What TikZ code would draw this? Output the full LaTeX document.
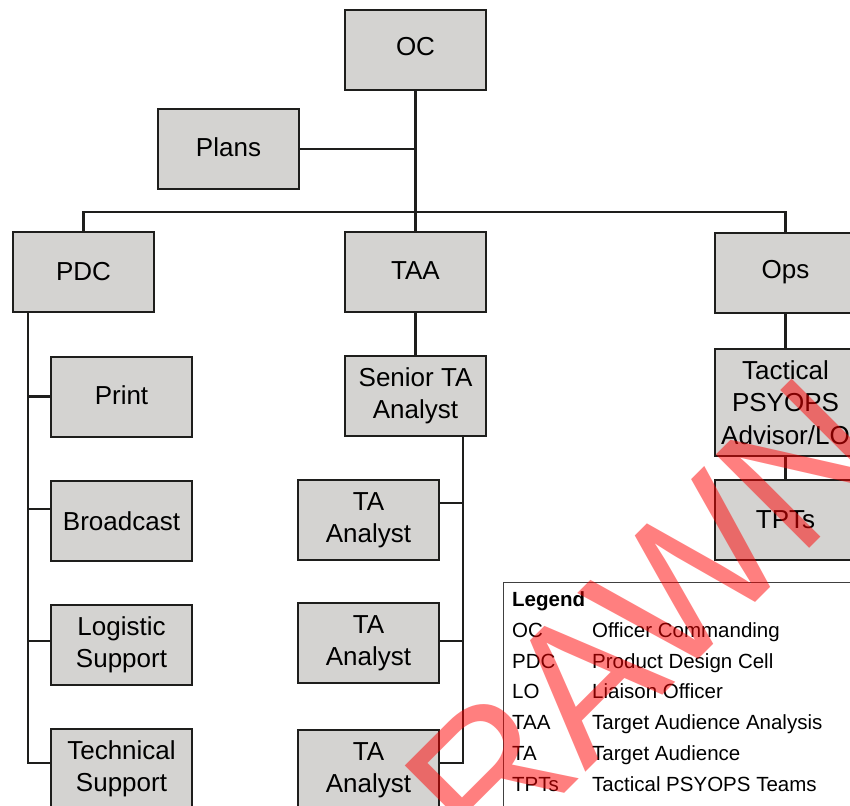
\documentclass[tikz,border=0pt]{standalone}
\usepackage{fontspec}
\setmainfont{Liberation Sans}
\definecolor{boxgray}{RGB}{212,211,209}
\definecolor{linedark}{RGB}{30,30,28}
\begin{document}
\begin{tikzpicture}[x=1pt,y=-1pt,
  orgbox/.style={draw=linedark, line width=2pt, fill=boxgray, minimum width=141pt,
    minimum height=80pt, inner sep=0pt, align=center,
    font=\fontsize{26}{32.5}\selectfont},
  conn/.style={draw=linedark, line width=2.6pt},
  legtext/.style={anchor=base west, inner sep=0pt, font=\fontsize{20.5}{24}\selectfont},
  wmark/.style={rotate=45, anchor=base west, inner sep=0pt, text=red, text opacity=0.5,
    font=\fontsize{192}{192}\selectfont}]
\useasboundingbox (0,0) rectangle (850,805);
\clip (0,0) rectangle (850,805);

% nodes
\node[orgbox] (OC) at (415.5,50) {\raisebox{8pt}{OC}};
\node[orgbox] (Plans) at (228.5,149) {\raisebox{4pt}{Plans}};
\node[orgbox] (PDC) at (83.5,272) {PDC};
\node[orgbox] (TAA) at (415.5,272) {\raisebox{2pt}{TAA}};
\node[orgbox] (Ops) at (785.5,272.5) {\raisebox{7pt}{Ops}};
\node[orgbox] (Print) at (121.5,396.5) {\raisebox{3pt}{Print}};
\node[orgbox] (Broad) at (121.5,521) {Broadcast};
\node[orgbox] (Logi) at (121.5,645) {Logistic\\Support};
\node[orgbox] (Tech) at (121.5,769) {Technical\\Support};
\node[orgbox] (Senior) at (415.5,396) {Senior TA\\Analyst};
\node[orgbox] (TAa) at (368.5,520) {TA\\Analyst};
\node[orgbox] (TAb) at (368.5,643) {TA\\Analyst};
\node[orgbox] (TAc) at (368.5,770) {TA\\Analyst};
\node[orgbox, minimum height=107pt] (Tact) at (785.5,402.5) {Tactical\\PSYOPS\\Advisor/LO};
\node[orgbox] (TPTs) at (785.5,519.5) {TPTs};

% connectors
\coordinate (bus) at (415.5,212);
\draw[conn] (OC.south) -- (TAA.north);
\draw[conn] (Plans.east) -- (Plans.east -| OC.south);
\draw[conn] (PDC.north) |- (bus) -| (Ops.north);
\draw[conn] (TAA.south) -- (Senior.north);
\draw[conn] (Ops.south) -- (Tact.north);
\draw[conn] (Tact.south) -- (TPTs.north);

\coordinate (pdct) at ([xshift=16pt]PDC.south west);
\draw[conn] (pdct) |- ([yshift=6pt]Tech.west);
\draw[conn] (Print.west) -- (Print.west -| pdct);
\draw[conn] ([yshift=12pt]Broad.west) -- ([yshift=12pt]Broad.west -| pdct);
\draw[conn] ([yshift=4pt]Logi.west) -- ([yshift=4pt]Logi.west -| pdct);

\coordinate (sent) at ([xshift=-24pt]Senior.south east);
\draw[conn] (sent) |- ([yshift=7pt]TAc.east);
\draw[conn] ([yshift=17pt]TAa.east) -- ([yshift=17pt]TAa.east -| sent);
\draw[conn] ([yshift=2pt]TAb.east) -- ([yshift=2pt]TAb.east -| sent);

% legend
\draw[draw=black!75, line width=1pt, fill=white] (503,582) rectangle (880,840);
\node[legtext, font=\fontsize{20.5}{24}\selectfont\bfseries] (lg) at (512,606) {Legend};
\node[legtext] (k1) at (512,637) {OC};
\node[legtext] (v1) at (592,637) {Officer Commanding};
\node[legtext] (k2) at (512,668) {PDC};
\node[legtext] (v2) at (592,668) {Product Design Cell};
\node[legtext] (k3) at (512,698.5) {LO};
\node[legtext] (v3) at (592,698.5) {Liaison Officer};
\node[legtext] (k4) at (512,729) {TAA};
\node[legtext] (v4) at (592,729) {Target Audience Analysis};
\node[legtext] (k5) at (512,760) {TA};
\node[legtext] (v5) at (592,760) {Target Audience};
\node[legtext] (k6) at (512,791) {TPTs};
\node[legtext] (v6) at (592,791) {Tactical PSYOPS Teams};

% watermark
\node[wmark] (wm) at (389,969) {DRAWN};
\end{tikzpicture}
\end{document}
